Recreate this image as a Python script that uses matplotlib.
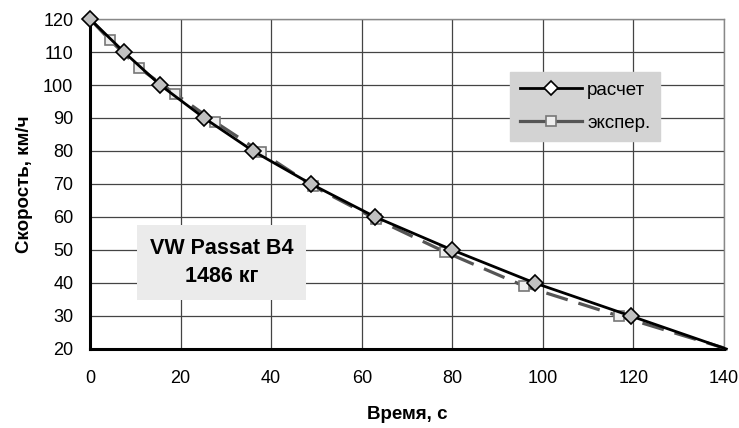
import matplotlib.pyplot as plt

plt.rcParams['font.family'] = ['Liberation Sans', 'DejaVu Sans']

# расчет
calc_t = [0, 7.5, 15.5, 25.2, 36.0, 48.8, 63.0, 80.0, 98.2, 119.4, 140.5]
calc_v = [120, 110, 100, 90, 80, 70, 60, 50, 40, 30, 20]
# экспер.
exp_t = [0, 4.4, 10.8, 18.8, 27.6, 37.7, 49.2, 63.1, 78.4, 95.8, 116.8, 140]
exp_v = [120, 113.6, 105.2, 97.3, 88.8, 79.7, 69.4, 59.4, 49.4, 39.1, 30.0, 20.3]

x_ticks = [0, 20, 40, 60, 80, 100, 120, 140]
y_ticks = [20, 30, 40, 50, 60, 70, 80, 90, 100, 110, 120]

fig = plt.figure(figsize=(7.39, 4.28), dpi=100)
ax = fig.add_axes([0.1218, 0.1846, 0.858, 0.771])

ax.plot(exp_t, exp_v, color='#555555', lw=2.3, dashes=(7, 3.5),
        marker='s', ms=6.5, mfc='#eeeeee', mec='#777777', mew=1.2,
        markevery=list(range(1, len(exp_t) - 1)), clip_on=False, zorder=3)
ax.plot(calc_t, calc_v, color='black', lw=2,
        marker='D', ms=8.5, mfc='#c0c0c0', mec='black', mew=1.2,
        markevery=list(range(len(calc_t) - 1)), clip_on=False, zorder=4)

ax.set_xlim(0, 140)
ax.set_ylim(20, 120)
ax.set_xticks(x_ticks)
ax.set_yticks(y_ticks)
ax.tick_params(length=0, labelsize=13)
ax.tick_params(axis='y', pad=12)
ax.tick_params(axis='x', pad=15)
ax.grid(True, color='#444444', lw=0.9)
ax.set_axisbelow(True)
for s in ['left', 'bottom']:
    ax.spines[s].set_linewidth(2.2)
    ax.spines[s].set_color('black')
for s in ['top', 'right']:
    ax.spines[s].set_linewidth(1)
    ax.spines[s].set_color('#888888')

ax.set_xlabel('Время, с', fontsize=13.5, fontweight='bold', labelpad=14)
ax.set_ylabel('Скорость, км/ч', fontsize=13.5, fontweight='bold', labelpad=7)

leg_calc = plt.Line2D([], [], color='black', lw=2, marker='D', ms=7,
                      mfc='white', mec='black', mew=1.2)
leg_exp = plt.Line2D([], [], color='#555555', lw=2.3, marker='s', ms=6.5,
                     mfc='#eeeeee', mec='#777777', mew=1.2)
leg = ax.legend([leg_calc, leg_exp], ['расчет', 'экспер.'],
                loc='upper left', bbox_to_anchor=(0.663, 0.838),
                fontsize=13.5, frameon=True, fancybox=False,
                handlelength=3.3, handletextpad=0.3, borderpad=0.5,
                labelspacing=0.85, borderaxespad=0)
leg.get_frame().set_facecolor('#d3d3d3')
leg.get_frame().set_edgecolor('#d3d3d3')
leg.get_frame().set_alpha(1)

ax.text(29, 46.2, 'VW Passat B4\n1486 кг', fontsize=15.5, fontweight='bold',
        ha='center', va='center', linespacing=1.45, zorder=5,
        bbox=dict(boxstyle='square,pad=0.6', fc='#ebebeb', ec='none'))

fig.savefig('out.png', dpi=100)
